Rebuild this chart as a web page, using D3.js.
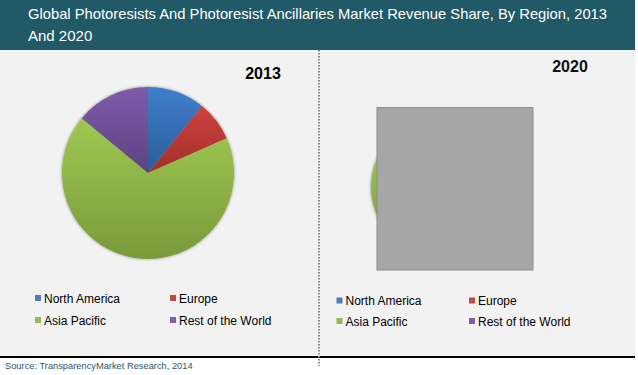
<!DOCTYPE html>
<html><head><meta charset="utf-8">
<script src="https://cdn.jsdelivr.net/npm/d3@7"></script>
<style>body{margin:0;background:#fff}svg{display:block}text{font-family:"Liberation Sans",Arial,sans-serif}</style>
</head><body>
<svg id="c" width="638" height="375"></svg>
<script>
const titleLines = ["Global Photoresists And Photoresist Ancillaries Market Revenue Share, By Region, 2013", "And 2020"];
const regions = ["North America", "Europe", "Asia Pacific", "Rest of the World"];
const values2013 = [10.8, 7.6, 67.6, 14.0];
const values2020 = [9.5, 6.5, 71.0, 13.0];
const years = ["2013", "2020"];
const colorsTop = ["#3f7fcc", "#cd423e", "#9fc852", "#7d5caa"];
const colorsBottom = ["#2c5c97", "#a32f2c", "#7a9a3a", "#5d4281"];
const legendColors = ["#4a7ebb", "#be4b48", "#98b954", "#7d60a0"];
const source = "Source: TransparencyMarket Research, 2014";

const svg = d3.select("#c");
const defs = svg.append("defs");
regions.forEach((r, i) => {
  const g = defs.append("linearGradient").attr("id", "g" + i).attr("x1", 0).attr("y1", 0).attr("x2", 0).attr("y2", 1);
  g.append("stop").attr("offset", 0).attr("stop-color", colorsTop[i]);
  g.append("stop").attr("offset", 1).attr("stop-color", colorsBottom[i]);
});
const f = defs.append("filter").attr("id", "sh").attr("x", -0.1).attr("y", -0.1).attr("width", 1.2).attr("height", 1.2);
f.append("feDropShadow").attr("dx", 0).attr("dy", 0).attr("stdDeviation", 1.6).attr("flood-color", "#000").attr("flood-opacity", 0.45);

// backgrounds
svg.append("rect").attr("x", 0).attr("y", 0).attr("width", 635).attr("height", 50).attr("fill", "#215966");
svg.append("rect").attr("x", 0).attr("y", 50).attr("width", 635).attr("height", 306).attr("fill", "#f2f2f2");
svg.append("rect").attr("x", 0).attr("y", 356).attr("width", 635).attr("height", 2).attr("fill", "#000");

// title
titleLines.forEach((t, i) => {
  const tx = svg.append("text").attr("x", 28).attr("y", 19 + i * 22).attr("fill", "#fff").attr("font-size", 15).text(t);
  if (i === 0) tx.attr("textLength", 579).attr("lengthAdjust", "spacingAndGlyphs");
});

// divider
svg.append("line").attr("x1", 319).attr("x2", 319).attr("y1", 50).attr("y2", 366)
  .attr("stroke", "#8a8a8a").attr("stroke-width", 2).attr("stroke-dasharray", "1.5,1.5");

const pie = d3.pie().sort(null).value(d => d);
function drawPie(vals, cx, cy, r) {
  const arc = d3.arc().innerRadius(0).outerRadius(r);
  const g = svg.append("g").attr("transform", `translate(${cx},${cy})`).attr("filter", "url(#sh)");
  g.selectAll("path").data(pie(vals)).join("path")
    .attr("d", arc).attr("fill", (d, i) => `url(#g${i})`);
}
drawPie(values2013, 148, 173, 86);
drawPie(values2020, 443, 187, 72);

// year labels
svg.append("text").attr("x", 263).attr("y", 79).attr("text-anchor", "middle").attr("font-size", 16).attr("font-weight", "bold").attr("fill", "#000").text(years[0]);
svg.append("text").attr("x", 570).attr("y", 72).attr("text-anchor", "middle").attr("font-size", 16).attr("font-weight", "bold").attr("fill", "#111").text(years[1]);

// grey obscuring box on 2020 panel
svg.append("rect").attr("x", 377).attr("y", 107.5).attr("width", 156).attr("height", 162.5)
  .attr("fill", "#a6a6a6").attr("stroke", "#8c8c8c").attr("stroke-width", 1);

// legends
function legend(x0, x1, y0, y1) {
  const pos = [[x0, y0], [x1, y0], [x0, y1], [x1, y1]];
  regions.forEach((r, i) => {
    const [x, y] = pos[i];
    svg.append("rect").attr("x", x).attr("y", y - 3).attr("width", 6).attr("height", 6).attr("fill", legendColors[i]);
    svg.append("text").attr("x", x + 9).attr("y", y + 4.5).attr("font-size", 12).attr("fill", "#000").text(r);
  });
}
legend(35, 170, 298, 320);
legend(336.5, 469, 300.5, 321);

// source
svg.append("text").attr("x", 5).attr("y", 369).attr("font-size", 9.3).attr("fill", "#2f5468").text(source);
</script>
</body></html>
